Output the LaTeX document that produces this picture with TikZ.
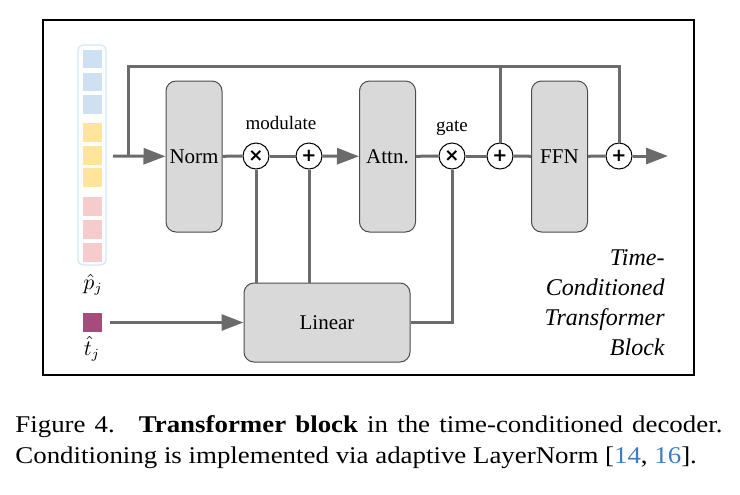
\documentclass[tikz,border=0pt]{standalone}
\usepackage{fontspec}
\setmainfont{Liberation Serif}
\newfontfamily\symfont{DejaVu Sans}
\newfontfamily\capfont[FakeStretch=1.12]{Liberation Serif}
\usepackage{xcolor}
\usepackage{tikz}
\usetikzlibrary{arrows.meta,positioning,calc}

\definecolor{boxgray}{HTML}{D9D9D9}
\definecolor{linegray}{HTML}{6B6B6B}
\definecolor{tokblue}{HTML}{CFE0F3}
\definecolor{tokyellow}{HTML}{FFE49B}
\definecolor{tokpink}{HTML}{F5CBCB}
\definecolor{tokframe}{HTML}{D3E5F7}
\definecolor{tokpurple}{HTML}{A54C7C}
\definecolor{citeblue}{HTML}{3C7DC4}

\begin{document}
\begin{tikzpicture}[
            x=0.5pt, y=-0.5pt,
            every node/.style={font=\fontsize{10.5}{12}\selectfont},
            blk/.style={draw=black!70, fill=boxgray, rounded corners=5pt, line width=0.5pt, minimum width=28pt, minimum height=75.5pt, inner sep=0pt},
            op/.style={draw=black, fill=white, circle, line width=0.5pt, minimum size=13pt, inner sep=0pt, font=\symfont\bfseries\fontsize{9}{9}\selectfont},
            tok/.style={minimum width=9.5pt, minimum height=9.3pt, inner sep=0pt},
            ln/.style={draw=linegray, line width=1.5pt},
            arr/.style={ln, -{Triangle[length=11pt,width=8pt]}},
        ]
            \useasboundingbox (0,0) rectangle (740,494);
            % frame
            \draw[line width=1.3pt] (43,20) rectangle (694,375);

            % tokens
            \draw[tokframe, line width=0.6pt, rounded corners=2.5pt] (78,45) rectangle (106,265);
            \foreach \i/\y/\c in {1/59/tokblue, 2/82/tokblue, 3/104.5/tokblue,
                                  4/132.5/tokyellow, 5/155.5/tokyellow, 6/177.5/tokyellow,
                                  7/206.5/tokpink, 8/229.5/tokpink, 9/252.5/tokpink}
                \node[tok, fill=\c] (p\i) at (92.5,\y) {};
            \node[inner sep=1pt] (plab) at (93,285) {$\hat{p}_j$};
            \node[tok, fill=tokpurple] (t) at (92,322.5) {};
            \node[inner sep=1pt] (tlab) at (92,349) {$\hat{t}_j$};

            % blocks
            \node[blk] (norm) at (194,156.5) {Norm};
            \node[blk] (attn) at (387.5,156.5) {Attn.};
            \node[blk] (ffn) at (559.5,156.5) {FFN};
            \node[blk, minimum width=83pt, minimum height=39.5pt] (lin) at (327,322.5) {Linear};

            % operations
            \node[op] (mul1) at (256,156) {×};
            \node[op] (add1) at (309,156) {+};
            \node[op] (mul2) at (452,156) {×};
            \node[op] (add2) at (500,156) {+};
            \node[op] (add3) at (619,156) {+};
            \node[font=\fontsize{9.5}{11}\selectfont] (mod) at (281,123) {modulate};
            \node[font=\fontsize{9.5}{11}\selectfont] (gate) at (452,128) {gate};

            \coordinate (in) at (113,156);
            \coordinate (skip) at (128,66);
            \coordinate (out) at (668,156);

            % connectors
            \draw[arr] (in) -- (norm);
            \draw[ln] (skip |- in) -- (skip) -| (add3);
            \draw[ln] (add2) -- (add2 |- skip);
            \draw[ln] (norm) -- (mul1);
            \draw[ln] (mul1) -- (add1);
            \draw[arr] (add1) -- (attn);
            \draw[ln] (attn) -- (mul2);
            \draw[ln] (mul2) -- (add2);
            \draw[ln] (add2) -- (ffn);
            \draw[ln] (ffn) -- (add3);
            \draw[arr] (add3) -- (out);
            \draw[ln] (mul1) -- (mul1 |- lin.north);
            \draw[ln] (add1) -- (add1 |- lin.north);
            \draw[ln] (lin.east) -| (mul2);
            \draw[arr, shorten <=4pt] (t) -- (lin);

            % label
            \node[align=right, anchor=east, inner sep=0pt, font=\itshape\fontsize{12}{15}\selectfont] (title) at (665,303)
                {Time-\\Conditioned\\Transformer\\Block};

            % caption
            \node[anchor=north west, inner sep=0pt, text width=353.5pt, align=justify,
                  font=\capfont\fontsize{12}{15.5}\selectfont] (cap) at (15,415.5)
                {Figure 4.\hspace{1em}\textbf{Transformer block} in the time-conditioned decoder.\linebreak
                 Conditioning is implemented via adaptive LayerNorm [{\color{citeblue}14}, {\color{citeblue}16}].};
        \end{tikzpicture}
\end{document}
